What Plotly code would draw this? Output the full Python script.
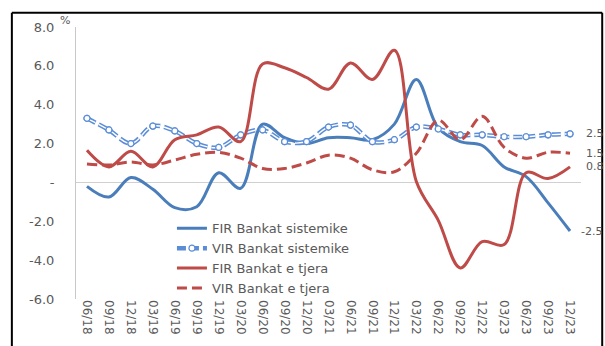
import plotly.graph_objects as go

# Quarterly periods
periods = ["06/18", "09/18", "12/18", "03/19", "06/19", "09/19", "12/19", "03/20",
           "06/20", "09/20", "12/20", "03/21", "06/21", "09/21", "12/21", "03/22",
           "06/22", "09/22", "12/22", "03/23", "06/23", "09/23", "12/23"]

# Rates (%) by bank group
fir_sistemike = [-0.2, -0.75, 0.25, -0.35, -1.3, -1.25, 0.5, -0.3, 3.0, 2.3, 2.0, 2.3,
                 2.3, 2.2, 3.0, 5.3, 2.8, 2.1, 1.9, 0.8, 0.3, -1.05, -2.5]
vir_sistemike = [3.3, 2.7, 2.0, 2.9, 2.65, 2.0, 1.8, 2.45, 2.7, 2.1, 2.1, 2.85,
                 2.95, 2.1, 2.2, 2.85, 2.75, 2.45, 2.45, 2.35, 2.35, 2.45, 2.5]
fir_tjera = [1.65, 0.8, 1.6, 0.8, 2.2, 2.45, 2.85, 2.1, 6.1, 5.9, 5.4, 4.8,
             6.15, 5.3, 6.8, 0.05, -1.95, -4.4, -3.05, -3.2, 0.5, 0.2, 0.8]
vir_tjera = [0.95, 0.9, 1.05, 0.9, 1.15, 1.45, 1.55, 1.25, 0.72, 0.72, 1.0, 1.4,
             1.25, 0.65, 0.55, 1.5, 3.2, 2.2, 3.4, 1.8, 1.25, 1.55, 1.5]

names = ["FIR Bankat sistemike", "VIR Bankat sistemike", "FIR Bankat e tjera", "VIR Bankat e tjera"]

y_tickvals = [-6, -4, -2, 0, 2, 4, 6, 8]
y_ticktext = ["-6.0", "-4.0", "-2.0", "-", "2.0", "4.0", "6.0", "8.0"]

BLUE = "#4a7ebb"
BLUE_LIGHT = "#5b8dd6"
RED = "#be4b48"
GREY_TEXT = "#595959"
FONT = "DejaVu Sans"

x = list(range(len(periods)))
spline = dict(shape="spline", smoothing=1.0)

fig = go.Figure()

fig.add_trace(go.Scatter(
    x=x, y=fir_sistemike, name=names[0], mode="lines",
    line=dict(color=BLUE, width=3, **spline)))

# Double dashed line with hollow circle markers
fig.add_trace(go.Scatter(
    x=x, y=vir_sistemike, name=names[1], mode="lines+markers",
    line=dict(color=BLUE_LIGHT, width=4.5, dash="9px,4px", **spline),
    marker=dict(symbol="circle", size=6, color="white",
                line=dict(color=BLUE_LIGHT, width=1.2))))
fig.add_trace(go.Scatter(
    x=x, y=vir_sistemike, mode="lines", showlegend=False, hoverinfo="skip",
    line=dict(color="white", width=1.4, dash="9px,4px", **spline)))
fig.add_trace(go.Scatter(
    x=x, y=vir_sistemike, mode="markers", showlegend=False, hoverinfo="skip",
    marker=dict(symbol="circle", size=6, color="white",
                line=dict(color=BLUE_LIGHT, width=1.2))))

fig.add_trace(go.Scatter(
    x=x, y=fir_tjera, name=names[2], mode="lines",
    line=dict(color=RED, width=3, **spline)))
fig.add_trace(go.Scatter(
    x=x, y=vir_tjera, name=names[3], mode="lines",
    line=dict(color=RED, width=3, dash="10px,5px", **spline)))

# End-of-series value labels
annotations = []
for series, shift in [(vir_sistemike, 14), (vir_tjera, 14), (fir_tjera, 14), (fir_sistemike, 9)]:
    annotations.append(dict(
        x=x[-1], y=series[-1], xref="x", yref="y",
        text=f"{series[-1]:.1f}", showarrow=False, xanchor="left", yanchor="middle",
        xshift=shift, font=dict(family=FONT, size=11, color=GREY_TEXT)))

# Unit label next to the top of the value axis
annotations.append(dict(
    x=-0.022, y=1.025, xref="paper", yref="paper", text="%", showarrow=False,
    xanchor="center", yanchor="middle", font=dict(family=FONT, size=11, color=GREY_TEXT)))

# Black frame around the chart
top = 1.052
frame = [
    dict(type="line", xref="paper", yref="paper", x0=-0.127, x1=1.042, y0=top, y1=top,
         line=dict(color="black", width=2)),
    dict(type="line", xref="paper", yref="paper", x0=-0.127, x1=-0.127, y0=top, y1=-0.3,
         line=dict(color="black", width=2)),
    dict(type="line", xref="paper", yref="paper", x0=1.042, x1=1.042, y0=top, y1=-0.3,
         line=dict(color="black", width=2)),
]

fig.update_layout(
    width=605, height=346,
    margin=dict(l=76, r=24, t=27, b=47),
    paper_bgcolor="white", plot_bgcolor="white",
    font=dict(family=FONT, color=GREY_TEXT),
    showlegend=True,
    legend=dict(x=0.19, y=0.315, xanchor="left", yanchor="top",
                bgcolor="rgba(255,255,255,0)", borderwidth=0,
                font=dict(family=FONT, size=13, color=GREY_TEXT),
                tracegroupgap=0, itemwidth=30),
    annotations=annotations,
    shapes=frame,
)

fig.update_xaxes(
    range=[-0.5, len(periods) - 0.5],
    tickmode="array", tickvals=x, ticktext=periods,
    tickangle=90, showgrid=False, zeroline=False, showline=False,
    ticks="", tickfont=dict(family=FONT, size=12, color=GREY_TEXT))

fig.update_yaxes(
    range=[-6, 8], tickmode="array", tickvals=y_tickvals, ticktext=y_ticktext,
    showgrid=False, zeroline=True, zerolinecolor="#d0d0d0", zerolinewidth=1,
    showline=True, linecolor="#c8c8c8", linewidth=1,
    ticks="", ticklabelstandoff=18,
    tickfont=dict(family=FONT, size=13, color=GREY_TEXT))

fig.write_html("out.html")
